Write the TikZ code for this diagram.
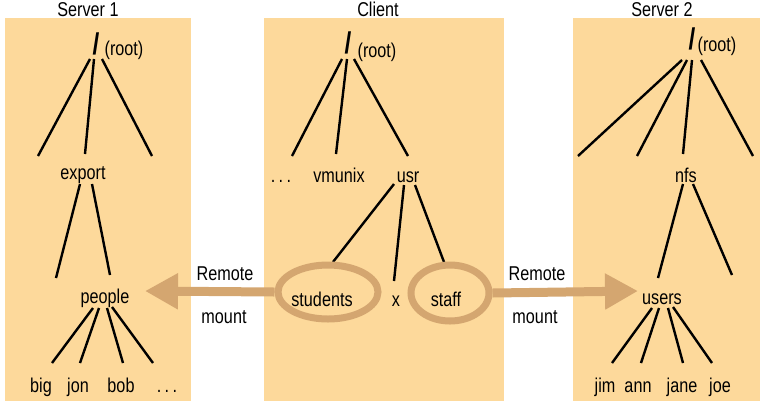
\documentclass[tikz,border=0pt]{standalone}
\usepackage{fontspec}
\setmainfont{Liberation Sans}[FakeStretch=0.81]
\usetikzlibrary{arrows.meta,shapes.geometric}
\definecolor{boxfill}{RGB}{253,217,155}
\definecolor{mountcol}{RGB}{212,166,112}
\tikzset{
  lbl/.style={font=\fontsize{20}{24}\selectfont, inner sep=0pt, anchor=base},
  slashlbl/.style={font=\fontsize{30}{32}\selectfont\bfseries, inner sep=0pt, anchor=base},
  edge/.style={draw=black, line width=2.4pt},
  panel/.style={fill=boxfill, draw=none},
  ring/.style={draw=mountcol, line width=7pt, ellipse, inner sep=0pt},
  mountarrow/.style={draw=mountcol, line width=9pt, -{Triangle[length=33pt,width=34pt]}}
}
\begin{document}
\begin{tikzpicture}[x=1pt,y=-1pt]
\useasboundingbox (0,0) rectangle (767,405);
% panels
\fill[panel] (5,18) rectangle (191,401);
\fill[panel] (264,18) rectangle (504,401);
\fill[panel] (573,18) rectangle (760,401);
% titles
\node[lbl] (t1) at (88,16) {Server 1};
\node[lbl] (t2) at (378,16) {Client};
\node[lbl] (t3) at (662,16) {Server 2};

% ---------- Server 1 ----------
\node[slashlbl] (s1slash) at (96,54) {/};
\node[lbl] (s1root) at (124,55) {(root)};
\node[lbl] (export) at (83,179) {export};
\node[lbl] (people) at (105,303) {people};
\node[lbl] (big) at (41,392) {big};
\node[lbl] (jon) at (78,392) {jon};
\node[lbl] (bob) at (121,392) {bob};
\node[lbl] (s1dots) at (167,392) {.\,.\,.};
\coordinate (s1ra) at (90,59);  \coordinate (s1la) at (38,156);
\coordinate (s1rb) at (94,59);  \coordinate (s1lb) at (85,154);
\coordinate (s1rc) at (102,59); \coordinate (s1lc) at (152,156);
\coordinate (exa) at (80,184);  \coordinate (exla) at (56,278);
\coordinate (exb) at (92,184);  \coordinate (exlb) at (110,275);
\coordinate (pea) at (93,308);  \coordinate (big-t) at (52,363);
\coordinate (peb) at (99,308);  \coordinate (jon-t) at (80,363);
\coordinate (pec) at (107,308); \coordinate (bob-t) at (123,363);
\coordinate (ped) at (112,307); \coordinate (dots-t) at (153,363);
\draw[edge] (s1ra) -- (s1la);
\draw[edge] (s1rb) -- (s1lb);
\draw[edge] (s1rc) -- (s1lc);
\draw[edge] (exa) -- (exla);
\draw[edge] (exb) -- (exlb);
\draw[edge] (pea) -- (big-t);
\draw[edge] (peb) -- (jon-t);
\draw[edge] (pec) -- (bob-t);
\draw[edge] (ped) -- (dots-t);

% ---------- Client ----------
\node[slashlbl] (cslash) at (348,53) {/};
\node[lbl] (croot) at (377,57) {(root)};
\node[lbl] (cdots) at (281,182) {.\,.\,.};
\node[lbl] (vmunix) at (339,182) {vmunix};
\node[lbl] (usr) at (408,182) {usr};
\node[lbl] (students) at (322,306) {students};
\node[lbl] (xx) at (396,306) {x};
\node[lbl] (staff) at (446,306) {staff};
\coordinate (cra) at (342,59); \coordinate (cla) at (292,156);
\coordinate (crb) at (347,59); \coordinate (clb) at (336,154);
\coordinate (crc) at (354,59); \coordinate (clc) at (408,156);
\coordinate (usa) at (394,184); \coordinate (stu-t) at (333,262);
\coordinate (usb) at (404,185); \coordinate (x-t) at (394,281);
\coordinate (usc) at (415,185); \coordinate (sta-t) at (444,262);
\draw[edge] (cra) -- (cla);
\draw[edge] (crb) -- (clb);
\draw[edge] (crc) -- (clc);
\draw[edge] (usa) -- (stu-t);
\draw[edge] (usb) -- (x-t);
\draw[edge] (usc) -- (sta-t);

% ---------- Server 2 ----------
\node[slashlbl] (s2slash) at (692,49) {/};
\node[lbl] (s2root) at (717,51) {(root)};
\node[lbl] (nfs) at (686,182) {nfs};
\node[lbl] (users) at (662,304) {users};
\node[lbl] (jim) at (605,392) {jim};
\node[lbl] (ann) at (638,392) {ann};
\node[lbl] (jane) at (682,392) {jane};
\node[lbl] (joe) at (720,392) {joe};
\coordinate (s2ra) at (682,60); \coordinate (s2la) at (578,156);
\coordinate (s2rb) at (687,60); \coordinate (s2lb) at (637,156);
\coordinate (s2rc) at (692,60); \coordinate (s2lc) at (683,154);
\coordinate (s2rd) at (701,60); \coordinate (s2ld) at (753,156);
\coordinate (nfa) at (683,184); \coordinate (nfla) at (658,278);
\coordinate (nfb) at (693,184); \coordinate (nflb) at (732,275);
\coordinate (usra) at (652,308); \coordinate (jim-t) at (612,363);
\coordinate (usrb) at (659,308); \coordinate (ann-t) at (641,363);
\coordinate (usrc) at (668,308); \coordinate (jane-t) at (683,363);
\coordinate (usrd) at (673,307); \coordinate (joe-t) at (712,363);
\draw[edge] (s2ra) -- (s2la);
\draw[edge] (s2rb) -- (s2lb);
\draw[edge] (s2rc) -- (s2lc);
\draw[edge] (s2rd) -- (s2ld);
\draw[edge] (nfa) -- (nfla);
\draw[edge] (nfb) -- (nflb);
\draw[edge] (usra) -- (jim-t);
\draw[edge] (usrb) -- (ann-t);
\draw[edge] (usrc) -- (jane-t);
\draw[edge] (usrd) -- (joe-t);

% ---------- mounts ----------
\node[ring, minimum width=100pt, minimum height=54pt] (stE) at (328,292) {};
\node[ring, minimum width=78pt, minimum height=56pt] (sfE) at (450,293) {};
\coordinate (tipL) at (145,291);
\coordinate (tipR) at (638,291);
\draw[mountarrow] (stE.west) -- (tipL);
\draw[mountarrow] (sfE.east) -- (tipR);
\node[lbl] (rem1) at (225,280) {Remote};
\node[lbl] (mnt1) at (224,323) {mount};
\node[lbl] (rem2) at (537,280) {Remote};
\node[lbl] (mnt2) at (535,323) {mount};
\end{tikzpicture}
\end{document}
